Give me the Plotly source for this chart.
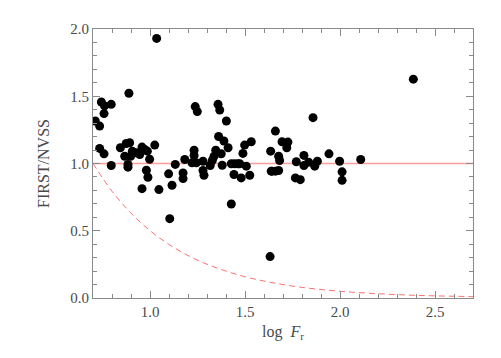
import plotly.graph_objects as go

# Data points (log F_r, FIRST/NVSS)
log_fr = [0.889, 0.744, 0.761, 0.796, 0.758, 0.712, 0.735, 0.735, 0.758, 0.796,
          0.844, 0.867, 0.875, 0.893, 0.898, 0.907, 0.928, 0.946, 0.958, 0.972,
          0.986, 0.998, 1.025, 0.884, 0.884, 0.981, 0.989, 0.958, 1.047, 1.098,
          1.116, 1.133, 1.104, 1.035,
          1.183, 1.174, 1.174, 1.232, 1.232, 1.221, 1.244, 1.279, 1.279, 1.284,
          1.317, 1.328, 1.337, 1.346, 1.361, 1.389, 1.375, 1.380, 1.411, 1.428,
          1.446, 1.463, 1.472, 1.442, 1.428, 1.480, 1.507, 1.525, 1.489, 1.498,
          1.533, 1.635, 1.638,
          1.238, 1.249, 1.358, 1.367, 1.402,
          1.660, 1.695, 1.726, 1.720, 1.677, 1.682, 1.642, 1.660, 1.677, 1.770,
          1.810, 1.810, 1.835, 1.867, 1.881, 1.765, 1.791, 1.942, 1.998, 2.011,
          2.011, 2.109, 1.858, 2.386, 1.632]
ratio = [1.522, 1.457, 1.428, 1.440, 1.371, 1.316, 1.278, 1.112, 1.072, 0.985,
         1.117, 1.054, 1.149, 1.154, 1.054, 1.092, 1.080, 1.067, 1.122, 1.104,
         1.092, 1.032, 1.137, 0.993, 0.973, 0.950, 0.898, 0.813, 0.806, 0.923,
         0.838, 0.993, 0.590, 1.930,
         1.030, 0.930, 0.888, 1.099, 1.060, 1.005, 1.005, 1.017, 0.948, 0.913,
         0.985, 1.022, 1.054, 1.099, 1.201, 1.167, 1.072, 0.987, 1.117, 0.998,
         0.998, 0.998, 0.998, 0.918, 0.699, 0.893, 0.980, 0.913, 1.075, 1.137,
         1.162, 1.092, 0.943,
         1.423, 1.386, 1.440, 1.398, 1.316,
         1.241, 1.162, 1.159, 1.117, 1.054, 1.022, 0.943, 0.943, 0.948, 1.013,
         1.060, 0.985, 1.010, 0.980, 1.017, 0.893, 0.880, 1.072, 1.017, 0.938,
         0.875, 1.030, 1.341, 1.627, 0.308]

# Reference lines
unity_x = [0.7, 2.7]
unity_y = [1.0, 1.0]
limit_x = [0.7, 0.8, 0.9, 1.0, 1.1, 1.2, 1.3, 1.4, 1.5, 1.6, 1.7,
           1.8, 1.9, 2.0, 2.1, 2.2, 2.3, 2.4, 2.5, 2.6, 2.7]
limit_y = [1.0, 0.794, 0.631, 0.501, 0.398, 0.316, 0.251, 0.200, 0.158, 0.126, 0.100,
           0.079, 0.063, 0.050, 0.040, 0.032, 0.025, 0.020, 0.016, 0.013, 0.010]

x_ticks = [1.0, 1.5, 2.0, 2.5]
x_labels = ["1.0", "1.5", "2.0", "2.5"]
y_ticks = [0.0, 0.5, 1.0, 1.5, 2.0]
y_labels = ["0.0", "0.5", "1.0", "1.5", "2.0"]

FONT = "Liberation Serif"
AXIS = "#8a8a8a"
TXT = "#4a4a4a"

fig = go.Figure()
fig.add_trace(go.Scatter(x=limit_x, y=limit_y, mode="lines",
                         line=dict(color="#ff7070", width=1, dash="6px,4px", shape="spline"),
                         hoverinfo="skip"))
fig.add_trace(go.Scatter(x=unity_x, y=unity_y, mode="lines",
                         line=dict(color="#ff9c9c", width=1.6), hoverinfo="skip"))
fig.add_trace(go.Scatter(x=log_fr, y=ratio, mode="markers",
                         marker=dict(color="black", size=9, line=dict(width=0))))

axis_common = dict(showgrid=False, zeroline=False, showline=True, linecolor=AXIS,
                   linewidth=1, mirror="allticks", ticks="inside", ticklen=7,
                   tickwidth=1, tickcolor=AXIS, automargin=False,
                   tickfont=dict(family=FONT, size=15, color=TXT))

fig.update_xaxes(range=[0.7, 2.7], tickvals=x_ticks, ticktext=x_labels,
                 minor=dict(dtick=0.1, tick0=0.7, ticks="inside", ticklen=4,
                            tickcolor=AXIS, tickwidth=1, showgrid=False),
                 title=dict(text="log  <i>F</i><sub>r</sub>", standoff=6,
                            font=dict(family=FONT, size=16, color=TXT)),
                 **axis_common)
fig.update_yaxes(range=[0, 2.0], tickvals=y_ticks, ticktext=y_labels,
                 minor=dict(dtick=0.1, tick0=0.0, ticks="inside", ticklen=4,
                            tickcolor=AXIS, tickwidth=1, showgrid=False),
                 title=dict(text="FIRST/NVSS", standoff=16,
                            font=dict(family=FONT, size=16, color=TXT)),
                 **axis_common)

# page body has an 8px default margin, so the figure is sized to fit the window
fig.update_layout(width=493, height=350, showlegend=False,
                  margin=dict(l=85, r=28, t=21, b=60),
                  plot_bgcolor="white", paper_bgcolor="white")

fig.write_html("out.html")
